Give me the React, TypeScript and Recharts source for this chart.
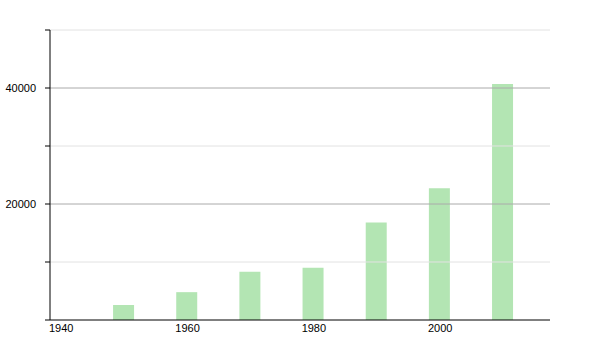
import { Bar, BarChart, ReferenceLine, XAxis, YAxis } from "recharts";

const years = [1950, 1960, 1970, 1980, 1990, 2000, 2010];
const population = [2600, 4800, 8300, 9000, 16800, 22700, 40700];
const xTicks = [1940, 1960, 1980, 2000];
const yTicks = [0, 10000, 20000, 30000, 40000, 50000];
const yLabelled = [20000, 40000];
const majorGrid = [20000, 40000];
const minorGrid = [10000, 30000, 50000];

const data = years.map((year, i) => ({ year, value: population[i] }));

const font = "'Liberation Sans', Arial, sans-serif";

function YearTick(props: any) {
  const { x, y, payload } = props;
  // labels sit at the left edge of each bar, not at its centre
  return (
    <text x={x - 11.5} y={y + 4} textAnchor="start" fill="#000" fontSize={11} fontFamily={font}>
      {payload.value}
    </text>
  );
}

export default function App() {
  return (
    <div style={{ position: "absolute", left: 0, top: 0, background: "#fff" }}>
      <BarChart width={600} height={350} data={data} margin={{ top: 30, right: 50, left: 0, bottom: 10 }}>
        {minorGrid.map((v) => (
          <ReferenceLine key={v} y={v} stroke="#e2e2e2" strokeWidth={1} />
        ))}
        {majorGrid.map((v) => (
          <ReferenceLine key={v} y={v} stroke="#aaaaaa" strokeWidth={1} />
        ))}
        <XAxis
          dataKey="year"
          type="number"
          domain={[1938.34, 2017.5]}
          allowDataOverflow
          ticks={xTicks}
          tickLine={false}
          axisLine={{ stroke: "#000" }}
          tick={<YearTick />}
          height={20}
        />
        <YAxis
          width={50}
          domain={[0, 50000]}
          ticks={yTicks}
          tickSize={5}
          tickMargin={9}
          axisLine={{ stroke: "#000" }}
          tickLine={{ stroke: "#000" }}
          tick={{ fill: "#000", fontSize: 11, fontFamily: font }}
          tickFormatter={(v) => (yLabelled.includes(v) ? String(v) : "")}
        />
        <Bar dataKey="value" fill="#b3e5b3" barSize={21} isAnimationActive={false} />
      </BarChart>
    </div>
  );
}
